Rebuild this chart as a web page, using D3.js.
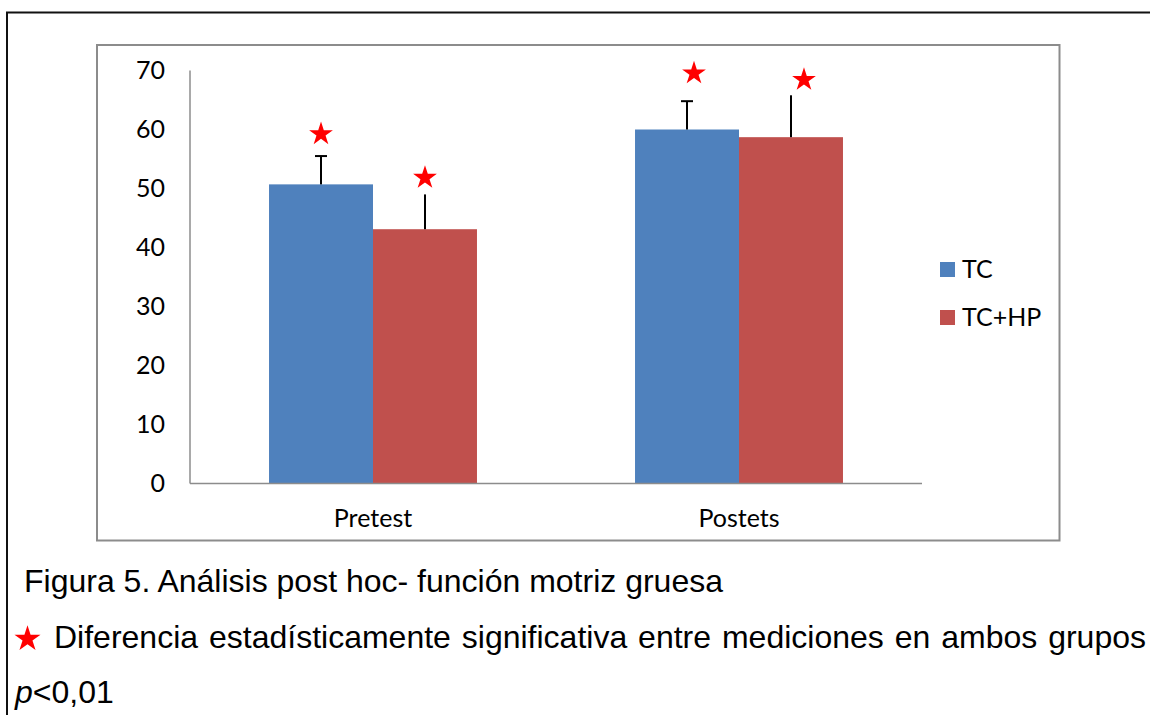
<!DOCTYPE html>
<html>
<head>
<meta charset="utf-8">
<script src="https://cdn.jsdelivr.net/npm/d3@7"></script>
<style>
  body { margin: 0; background: #fff; }
  svg { display: block; }
</style>
</head>
<body>
<svg id="chart" width="1150" height="715"></svg>
<script>
// data
var categories = ["Pretest", "Postets"];
var series = ["TC", "TC+HP"];
var tcValues = [50.7, 60.0];
var tchpValues = [43.1, 58.7];
var tcError = [4.8, 4.8];
var tchpError = [5.9, 7.1];
var starLevel = [[59.4, 52.0], [69.7, 68.6]];
var yTicks = [0, 10, 20, 30, 40, 50, 60, 70];
var colors = ["#4F81BD", "#C0504D"];

var svg = d3.select("#chart");

// outer page frame
svg.append("path")
    .attr("d", "M7,715 V12.5 H1150")
    .attr("fill", "none")
    .attr("stroke", "#111")
    .attr("stroke-width", 2);

// chart box
svg.append("rect")
    .attr("x", 97).attr("y", 45)
    .attr("width", 962.5).attr("height", 495.5)
    .attr("fill", "#fff")
    .attr("stroke", "#8c8c8c")
    .attr("stroke-width", 2);

var x0 = d3.scaleBand().domain(categories).range([190, 922]);
var x1 = d3.scaleBand().domain(series).range([0, x0.bandwidth()]).paddingOuter(0.76);
var y = d3.scaleLinear().domain([0, 70]).range([483.5, 70.5]);

var rows = categories.map(function (c, i) {
    return [
        {cat: c, s: "TC", v: tcValues[i], e: tcError[i], star: starLevel[i][0], cap: true},
        {cat: c, s: "TC+HP", v: tchpValues[i], e: tchpError[i], star: starLevel[i][1], cap: false}
    ];
});
var flat = d3.merge(rows);
var starNudge = {Pretest: [0, 0], Postets: [7, 13]};

// bars
svg.selectAll("rect.bar")
    .data(flat)
    .enter()
    .append("rect")
    .attr("class", "bar")
    .attr("x", function (d) { return x0(d.cat) + x1(d.s); })
    .attr("y", function (d) { return y(d.v); })
    .attr("width", x1.bandwidth())
    .attr("height", function (d) { return y(0) - y(d.v); })
    .attr("fill", function (d) { return colors[series.indexOf(d.s)]; });

// error bars (upper half only)
var eb = svg.selectAll("g.err")
    .data(flat)
    .enter()
    .append("g")
    .attr("class", "err");
eb.append("line")
    .attr("x1", function (d) { return x0(d.cat) + x1(d.s) + x1.bandwidth() / 2; })
    .attr("x2", function (d) { return x0(d.cat) + x1(d.s) + x1.bandwidth() / 2; })
    .attr("y1", function (d) { return y(d.v); })
    .attr("y2", function (d) { return y(d.v + d.e); })
    .attr("stroke", "#000")
    .attr("stroke-width", 2);
eb.filter(function (d) { return d.cap; })
    .append("line")
    .attr("x1", function (d) { return x0(d.cat) + x1(d.s) + x1.bandwidth() / 2 - 6; })
    .attr("x2", function (d) { return x0(d.cat) + x1(d.s) + x1.bandwidth() / 2 + 6; })
    .attr("y1", function (d) { return y(d.v + d.e); })
    .attr("y2", function (d) { return y(d.v + d.e); })
    .attr("stroke", "#000")
    .attr("stroke-width", 2);

// significance stars
var star = d3.symbol().type(d3.symbolStar).size(175);
svg.selectAll("path.star")
    .data(flat)
    .enter()
    .append("path")
    .attr("class", "star")
    .attr("d", star)
    .attr("fill", "#ff0000")
    .attr("transform", function (d) {
        var cx = x0(d.cat) + x1(d.s) + x1.bandwidth() / 2 + starNudge[d.cat][series.indexOf(d.s)];
        return "translate(" + cx + "," + (y(d.star) + 1) + ")";
    });

// axes
svg.append("line")
    .attr("x1", 190).attr("x2", 190)
    .attr("y1", y(70)).attr("y2", y(0))
    .attr("stroke", "#8c8c8c").attr("stroke-width", 1.5);
svg.append("line")
    .attr("x1", 190).attr("x2", 922)
    .attr("y1", y(0)).attr("y2", y(0))
    .attr("stroke", "#8c8c8c").attr("stroke-width", 1.5);

var labFont = "Lato, sans-serif";
svg.selectAll("text.ytick")
    .data(yTicks)
    .enter()
    .append("text")
    .attr("class", "ytick")
    .attr("x", 165)
    .attr("y", function (d) { return y(d); })
    .attr("dy", "0.35em")
    .attr("text-anchor", "end")
    .style("font-family", labFont)
    .style("font-size", "25px")
    .text(function (d) { return d; });

svg.selectAll("text.xtick")
    .data(categories)
    .enter()
    .append("text")
    .attr("class", "xtick")
    .attr("x", function (d) { return x0(d) + x0.bandwidth() / 2; })
    .attr("y", 527)
    .attr("text-anchor", "middle")
    .style("font-family", labFont)
    .style("font-size", "25px")
    .text(function (d) { return d; });

// legend
var lg = svg.selectAll("g.legend")
    .data(series)
    .enter()
    .append("g")
    .attr("class", "legend")
    .attr("transform", function (d, i) { return "translate(940," + (262 + i * 48) + ")"; });
lg.append("rect")
    .attr("width", 15).attr("height", 15)
    .attr("fill", function (d, i) { return colors[i]; });
lg.append("text")
    .attr("x", 22).attr("y", 7.5)
    .attr("dy", "0.35em")
    .style("font-family", labFont)
    .style("font-size", "25px")
    .text(function (d) { return d; });

// caption
var capFont = "'Liberation Sans', Arial, sans-serif";
svg.append("text")
    .attr("x", 24).attr("y", 592)
    .style("font-family", capFont)
    .style("font-size", "32px")
    .text("Figura 5. Análisis post hoc- función motriz gruesa");

svg.append("path")
    .attr("d", d3.symbol().type(d3.symbolStar).size(210))
    .attr("fill", "#ff0000")
    .attr("transform", "translate(27.5,639)");

var line2 = svg.append("text")
    .attr("x", 54).attr("y", 648)
    .style("font-family", capFont)
    .style("font-size", "32px")
    .text("Diferencia estadísticamente significativa entre mediciones en ambos grupos");
// justify to the right margin like the document
var w = line2.node().getComputedTextLength();
var gaps = line2.text().split(" ").length - 1;
line2.attr("word-spacing", Math.max(0, (1146 - 54 - w) / gaps));

var line3 = svg.append("text")
    .attr("x", 15).attr("y", 703)
    .style("font-family", capFont)
    .style("font-size", "32px");
line3.append("tspan").style("font-style", "italic").text("p");
line3.append("tspan").text("<0,01");
</script>
</body>
</html>
